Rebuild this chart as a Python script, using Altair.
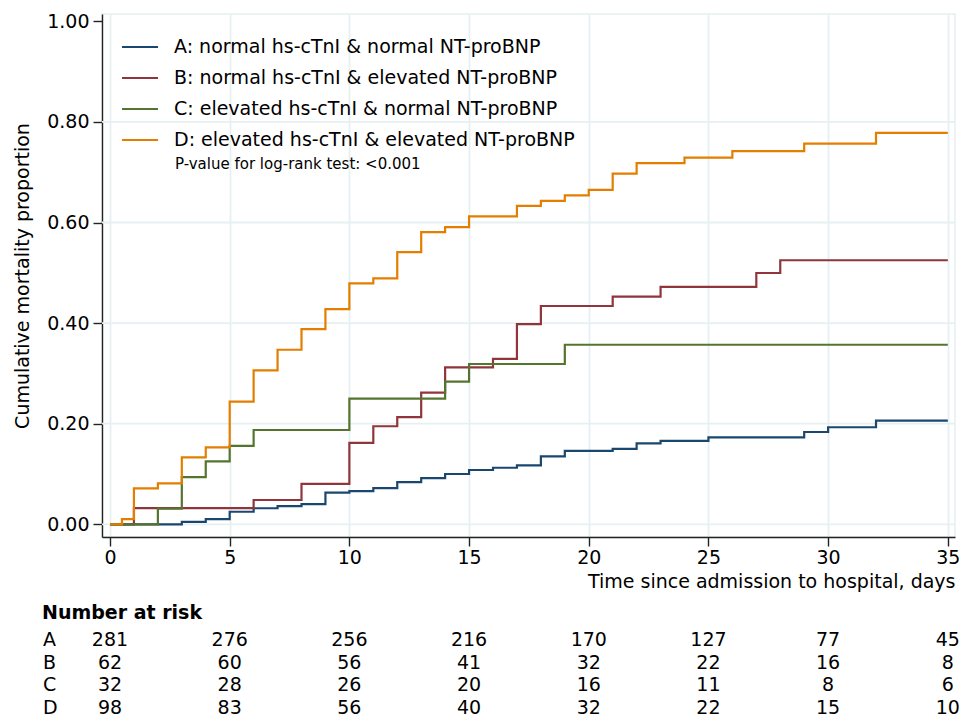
import altair as alt
import pandas as pd

# ---------------- data ----------------
labels = ["A: normal hs-cTnI & normal NT-proBNP",
          "B: normal hs-cTnI & elevated NT-proBNP",
          "C: elevated hs-cTnI & normal NT-proBNP",
          "D: elevated hs-cTnI & elevated NT-proBNP"]
letters = ["A", "B", "C", "D"]
colors = ["#1a476f", "#90353b", "#55752f", "#e37e00"]

a_days = [0, 3, 4, 5, 6, 7, 8, 9, 10, 11, 12, 13, 14, 15, 16, 17, 18, 19, 21, 22, 23, 25, 29, 30, 32, 35]
a_vals = [0, 0.005, 0.0105, 0.025, 0.032, 0.036, 0.040, 0.063, 0.066, 0.072, 0.084, 0.092, 0.100, 0.108,
          0.1125, 0.117, 0.135, 0.146, 0.150, 0.161, 0.166, 0.173, 0.1835, 0.193, 0.206, 0.206]

b_days = [0, 1, 6, 8, 10, 11, 12, 13, 14, 16, 17, 18, 21, 23, 27, 28, 35]
b_vals = [0, 0.0323, 0.0484, 0.0806, 0.162, 0.195, 0.213, 0.262, 0.312, 0.329, 0.398, 0.434, 0.4525,
          0.472, 0.4996, 0.525, 0.525]

c_days = [0, 2, 3, 4, 5, 6, 10, 14, 15, 19, 35]
c_vals = [0, 0.0313, 0.0938, 0.125, 0.156, 0.1875, 0.25, 0.2835, 0.3187, 0.357, 0.357]

d_days = [0, 0.5, 1, 2, 3, 4, 5, 6, 7, 8, 9, 10, 11, 12, 13, 14, 15, 17, 18, 19, 20, 21, 22, 24, 26, 29, 32, 35]
d_vals = [0, 0.0102, 0.0714, 0.0816, 0.133, 0.153, 0.244, 0.306, 0.347, 0.388, 0.428, 0.479, 0.489, 0.541,
          0.581, 0.591, 0.612, 0.633, 0.643, 0.654, 0.665, 0.697, 0.718, 0.729, 0.742, 0.757, 0.778, 0.778]

risk_times = [0, 5, 10, 15, 20, 25, 30, 35]
risk_a = [281, 276, 256, 216, 170, 127, 77, 45]
risk_b = [62, 60, 56, 41, 32, 22, 16, 8]
risk_c = [32, 28, 26, 20, 16, 11, 8, 6]
risk_d = [98, 83, 56, 40, 32, 22, 15, 10]

x_ticks = [0, 5, 10, 15, 20, 25, 30, 35]
y_ticks = [0, 0.2, 0.4, 0.6, 0.8, 1.0]
y_grid = [0, 0.2, 0.4, 0.6, 0.8]
p_note = "P-value for log-rank test: <0.001"

# ---------------- tables ----------------
rows = []
for lab, ds, vs in zip(labels, [a_days, b_days, c_days, d_days], [a_vals, b_vals, c_vals, d_vals]):
    for d, v in zip(ds, vs):
        rows.append({"group": lab, "day": d, "value": v})
curves = pd.DataFrame(rows)

risk_rows = []
for let, ns in zip(letters, [risk_a, risk_b, risk_c, risk_d]):
    for t, n in zip(risk_times, ns):
        risk_rows.append({"letter": let, "day": t, "n": n})
risk = pd.DataFrame(risk_rows)
letters_df = pd.DataFrame({"letter": letters})
grid_df = pd.DataFrame({"g": y_grid})

FONT = "DejaVu Sans"
GRID = "#e6eff1"

xscale = alt.Scale(domain=[-0.334, 35.30], nice=False, zero=False)
yscale = alt.Scale(domain=[-0.0252, 1.0145], nice=False, zero=False)
rowscale = alt.Scale(domain=letters, range=[626, 694], padding=0)

grid = alt.Chart(grid_df).mark_rule(color=GRID, strokeWidth=1.8).encode(
    y=alt.Y("g:Q", scale=yscale, axis=None)
)

lines = alt.Chart(curves).mark_line(interpolate="step-after", strokeWidth=2.2).encode(
    x=alt.X("day:Q", scale=xscale,
            axis=alt.Axis(values=x_ticks, grid=True, gridColor=GRID, gridWidth=1.8,
                          title="Time since admission to hospital, days",
                          titleAnchor="end", titleBaseline="middle", titleY=44,
                          labelPadding=2)),
    y=alt.Y("value:Q", scale=yscale,
            axis=alt.Axis(values=y_ticks, format=".2f", grid=False,
                          title="Cumulative mortality proportion",
                          titleX=-80, titleBaseline="middle", labelPadding=4)),
    color=alt.Color("group:N", scale=alt.Scale(domain=labels, range=colors),
                    legend=alt.Legend(orient="none", legendX=28, legendY=23, title=None,
                                      symbolType="M-2,0L2,0", symbolSize=324, symbolStrokeWidth=2,
                                      labelFont=FONT, labelFontSize=19, labelColor="black",
                                      labelOffset=24, labelLimit=700, rowPadding=11, padding=0)),
    order=alt.Order("day:Q"),
)

note = alt.Chart(pd.DataFrame({"t": [p_note]})).mark_text(
    align="left", baseline="middle", fontSize=15, font=FONT, color="black"
).encode(x=alt.value(73), y=alt.value(150), text="t:N")

risk_title = alt.Chart(pd.DataFrame({"t": ["Number at risk"]})).mark_text(
    align="left", baseline="middle", fontSize=19, font=FONT, fontWeight="bold", color="black"
).encode(x=alt.value(-60), y=alt.value(599), text="t:N")

risk_letters = alt.Chart(letters_df).mark_text(
    align="left", baseline="middle", fontSize=19, font=FONT, color="black"
).encode(x=alt.value(-59), y=alt.Y("letter:N", scale=rowscale, axis=None), text="letter:N")

risk_nums = alt.Chart(risk).mark_text(
    align="center", baseline="middle", fontSize=19, font=FONT, color="black"
).encode(x=alt.X("day:Q", scale=xscale), y=alt.Y("letter:N", scale=rowscale, axis=None), text="n:Q")

chart = alt.layer(grid, lines, note, risk_title, risk_letters, risk_nums).resolve_scale(
    y="independent"
).properties(
    width=853, height=523,
    autosize=alt.AutoSizeParams(type="none"),
    padding={"left": 94, "top": 6, "right": 6, "bottom": 180},
).configure_view(
    stroke=GRID, strokeWidth=1.5
).configure_axis(
    labelFont=FONT, titleFont=FONT, labelFontSize=19, titleFontSize=19,
    labelColor="black", titleColor="black", titleFontWeight="normal",
    domainColor="#222222", domainWidth=1.4, tickColor="#222222", tickWidth=1.4, tickSize=9,
)

chart.save("out.html", embed_options={"renderer": "svg", "actions": False})
